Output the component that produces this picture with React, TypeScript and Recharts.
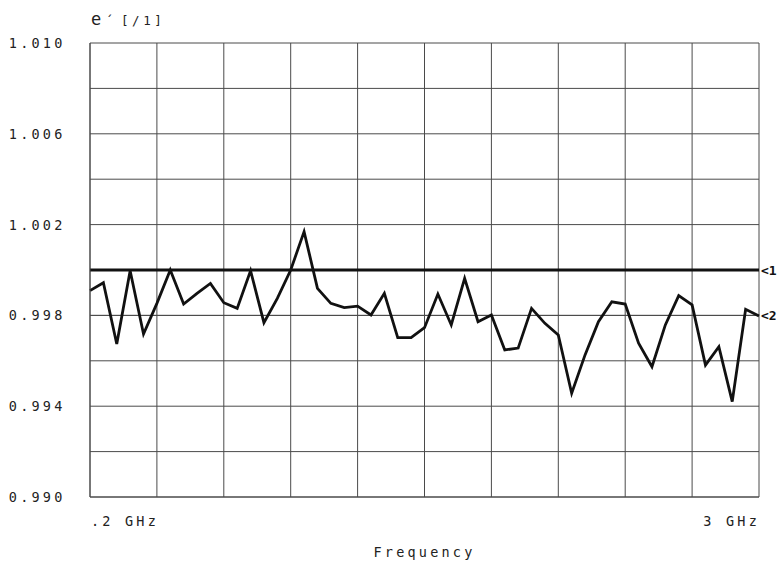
import React from 'react';
import { LineChart, Line, XAxis, YAxis, CartesianGrid, ReferenceLine } from 'recharts';

// sweep: 51 points, .2 GHz .. 3 GHz
const freqs = [
  0.2, 0.256, 0.312, 0.368, 0.424, 0.48, 0.536, 0.592, 0.648, 0.704,
  0.76, 0.816, 0.872, 0.928, 0.984, 1.04, 1.096, 1.152, 1.208, 1.264,
  1.32, 1.376, 1.432, 1.488, 1.544, 1.6, 1.656, 1.712, 1.768, 1.824,
  1.88, 1.936, 1.992, 2.048, 2.104, 2.16, 2.216, 2.272, 2.328, 2.384,
  2.44, 2.496, 2.552, 2.608, 2.664, 2.72, 2.776, 2.832, 2.888, 2.944, 3.0,
];

// e' readings
const eps = [
  0.99909, 0.99944, 0.99674, 0.99997, 0.99718, 0.99853, 1.0, 0.9985, 0.99897, 0.99941,
  0.99856, 0.99831, 0.99997, 0.99768, 0.99875, 1.0, 1.00169, 0.99919, 0.99853, 0.99834,
  0.99841, 0.99802, 0.99897, 0.99702, 0.99702, 0.99746, 0.99894, 0.99758, 0.99963, 0.99772,
  0.99802, 0.99648, 0.99656, 0.99831, 0.99765, 0.99714, 0.99457, 0.99626, 0.99772, 0.9986,
  0.9985, 0.99678, 0.99574, 0.99758, 0.99887, 0.99846, 0.99581, 0.99662, 0.9942, 0.99827, 0.99797,
];

const xTicks = [0.2, 0.48, 0.76, 1.04, 1.32, 1.6, 1.88, 2.16, 2.44, 2.72, 3.0];
const xLabels = ['.2 GHz', '', '', '', '', '', '', '', '', '', '3 GHz'];
const yTicks = [0.99, 0.992, 0.994, 0.996, 0.998, 1.0, 1.002, 1.004, 1.006, 1.008, 1.01];
const yLabeled = [0.99, 0.994, 0.998, 1.002, 1.006, 1.01];

const refLevel = 1.0;
const marker2 = 0.998;

const data = freqs.map((f, i) => ({ f, e: eps[i] }));

const FONT = '"DejaVu Sans Mono", monospace';
const INK = '#222';

const YTick = (p: any) => {
  const v = p.payload.value;
  if (!yLabeled.some((l) => Math.abs(l - v) < 1e-6)) return null;
  return (
    <text x={p.x} y={p.y} textAnchor="end" dominantBaseline="central"
      fontFamily={FONT} fontSize={13.5} letterSpacing={3.2} fill={INK}>
      {v.toFixed(3)}
    </text>
  );
};

const XTick = (p: any) => {
  const label = xLabels[p.index];
  if (!label) return null;
  const first = p.index === 0;
  return (
    <text x={p.x + 1} y={p.y + 24} textAnchor={first ? 'start' : 'end'}
      dominantBaseline="central" fontFamily={FONT} fontSize={13.5} letterSpacing={3.2} fill={INK}>
      {label}
    </text>
  );
};

const Marker = (text: string) => (p: any) => {
  const vb = p.viewBox;
  return (
    <text x={vb.x + vb.width + 2} y={vb.y} dominantBaseline="central"
      fontFamily={FONT} fontSize={13} fontWeight="bold" fill="#111">
      {text}
    </text>
  );
};

export default function App() {
  return (
    <div style={{ position: 'absolute', left: 0, top: 0, width: 778, height: 565, background: '#fff' }}>
      <div style={{ position: 'absolute', left: 91, top: 9, fontFamily: FONT, color: INK, whiteSpace: 'nowrap' }}>
        <span style={{ fontSize: 17 }}>e</span>
        <span style={{ fontSize: 13, marginLeft: 4 }}>´</span>
        <span style={{ fontSize: 12.5, marginLeft: 8, letterSpacing: 3.5 }}>[/1]</span>
      </div>
      <LineChart width={778} height={565} data={data}
        margin={{ top: 43, right: 19, bottom: 0, left: 0 }}>
        <CartesianGrid stroke="#4a4a4a" strokeWidth={1} />
        <XAxis dataKey="f" type="number" domain={[0.2, 3]} ticks={xTicks} interval={0}
          height={68} axisLine={{ stroke: '#4a4a4a' }} tickLine={false} tickSize={0} tickMargin={0}
          tick={<XTick />}
          label={{ value: 'Frequency', position: 'insideBottom', offset: 8, fontFamily: FONT,
            fontSize: 13.5, letterSpacing: 3.2, fill: INK }} />
        <YAxis type="number" domain={[0.99, 1.01]} ticks={yTicks} interval={0} width={90}
          axisLine={{ stroke: '#4a4a4a' }} tickLine={false} tickSize={0} tickMargin={24.5}
          tick={<YTick />} />
        <ReferenceLine y={refLevel} stroke="#111" strokeWidth={3} label={Marker('<1')} />
        <ReferenceLine y={marker2} stroke="#4a4a4a" strokeWidth={1} label={Marker('<2')} />
        <Line type="linear" dataKey="e" stroke="#111" strokeWidth={2.8} dot={false}
          strokeLinejoin="miter" isAnimationActive={false} />
      </LineChart>
    </div>
  );
}
